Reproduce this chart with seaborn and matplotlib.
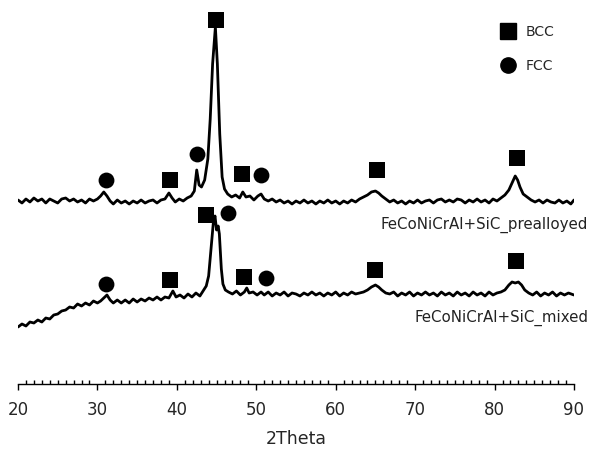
import matplotlib
matplotlib.use("Agg")
import matplotlib.pyplot as plt
from matplotlib.lines import Line2D
from matplotlib.ticker import MultipleLocator
import numpy as np
import pandas as pd
import seaborn as sns

# XRD pattern (intensity in arbitrary units)
theta_pre = [20.0, 20.5, 21.0, 21.5, 22.0, 22.5, 23.0, 23.5, 24.0, 24.5, 25.0, 25.5, 26.0, 26.5, 27.0, 27.5,
             28.0, 28.5, 29.0, 29.5, 30.0, 30.4, 30.8, 31.2, 31.6, 32.0, 32.5, 33.0, 33.5, 34.0, 34.5, 35.0,
             35.5, 36.0, 36.5, 37.0, 37.5, 38.0, 38.5, 39.0, 39.4, 39.8, 40.3, 40.8, 41.3, 41.8, 42.2, 42.5,
             42.8, 43.1, 43.5, 43.9, 44.2, 44.5, 44.85, 45.1, 45.4, 45.7, 46.0, 46.4, 46.9, 47.4, 47.9, 48.3,
             48.7, 49.2, 49.7, 50.2, 50.6, 51.0, 51.5, 52.0, 52.5, 53.0, 53.5, 54.0, 54.5, 55.0, 55.5, 56.0,
             56.5, 57.0, 57.5, 58.0, 58.5, 59.0, 59.5, 60.0, 60.5, 61.0, 61.5, 62.0, 62.5, 63.0, 63.5, 64.0,
             64.5, 65.0, 65.4, 65.8, 66.3, 66.8, 67.3, 67.8, 68.3, 68.8, 69.3, 69.8, 70.3, 70.8, 71.3, 71.8,
             72.3, 72.8, 73.3, 73.8, 74.3, 74.8, 75.3, 75.8, 76.3, 76.8, 77.3, 77.8, 78.3, 78.8, 79.3, 79.8,
             80.3, 80.8, 81.3, 81.8, 82.2, 82.6, 82.9, 83.2, 83.6, 84.1, 84.6, 85.1, 85.6, 86.1, 86.6, 87.1,
             87.6, 88.1, 88.6, 89.1, 89.6, 90.0]
int_pre = [184, 181, 185, 182, 186, 183, 185, 181, 185, 183, 181, 185, 186, 183, 185, 182,
           184, 181, 185, 183, 185, 188, 192, 188, 183, 180, 184, 181, 183, 180, 183, 181,
           184, 181, 183, 184, 181, 184, 185, 191, 186, 182, 185, 183, 186, 188, 193, 214,
           199, 197, 204, 225, 265, 320, 357, 320, 250, 207, 195, 190, 187, 189, 186, 192,
           187, 188, 184, 188, 190, 185, 183, 185, 182, 184, 181, 183, 180, 183, 181, 184,
           181, 183, 180, 183, 181, 184, 181, 183, 180, 183, 181, 184, 182, 185, 187, 189,
           192, 193, 191, 188, 185, 182, 184, 181, 183, 180, 183, 181, 184, 181, 183, 184,
           181, 184, 185, 182, 184, 182, 185, 184, 181, 184, 182, 185, 182, 184, 181, 185,
           183, 186, 189, 194, 201, 208, 204, 197, 190, 187, 184, 182, 184, 181, 184, 182,
           181, 184, 181, 183, 180, 184]

theta_mix = [20.0, 20.5, 21.0, 21.5, 22.0, 22.5, 23.0, 23.5, 24.0, 24.5, 25.0, 25.5, 26.0, 26.5, 27.0, 27.5,
             28.0, 28.5, 29.0, 29.5, 30.0, 30.4, 30.8, 31.2, 31.6, 32.0, 32.5, 33.0, 33.5, 34.0, 34.5, 35.0,
             35.5, 36.0, 36.5, 37.0, 37.5, 38.0, 38.5, 39.0, 39.5, 39.9, 40.4, 40.9, 41.4, 41.9, 42.4, 42.9,
             43.3, 43.7, 44.0, 44.3, 44.6, 44.8, 45.0, 45.2, 45.35, 45.6, 45.8, 46.1, 46.5, 47.0, 47.5, 48.0,
             48.5, 48.8, 49.1, 49.6, 50.1, 50.6, 51.0, 51.5, 52.0, 52.5, 53.0, 53.5, 54.0, 54.5, 55.0, 55.5,
             56.0, 56.5, 57.0, 57.5, 58.0, 58.5, 59.0, 59.5, 60.0, 60.5, 61.0, 61.5, 62.0, 62.5, 63.0, 63.5,
             64.0, 64.5, 65.0, 65.4, 65.8, 66.3, 66.8, 67.3, 67.8, 68.3, 68.8, 69.3, 69.8, 70.3, 70.8, 71.3,
             71.8, 72.3, 72.8, 73.3, 73.8, 74.3, 74.8, 75.3, 75.8, 76.3, 76.8, 77.3, 77.8, 78.3, 78.8, 79.3,
             79.8, 80.3, 80.8, 81.3, 81.8, 82.2, 82.6, 83.0, 83.4, 83.8, 84.3, 84.8, 85.3, 85.8, 86.3, 86.8,
             87.3, 87.8, 88.3, 88.8, 89.3, 90.0]
int_mix = [57, 60, 58, 62, 61, 64, 62, 66, 65, 69, 70, 73, 74, 77, 76, 80,
           78, 81, 79, 83, 81, 83, 86, 89, 84, 81, 84, 81, 84, 81, 85, 82,
           85, 83, 86, 84, 87, 84, 87, 86, 93, 87, 89, 86, 90, 87, 91, 88,
           93, 98, 108, 135, 162, 168, 154, 158, 150, 115, 100, 94, 92, 90, 93, 89,
           92, 96, 91, 92, 89, 92, 89, 92, 88, 91, 89, 92, 88, 91, 90, 88,
           91, 89, 92, 89, 91, 88, 91, 89, 92, 88, 91, 89, 92, 90, 91, 92,
           94, 97, 99, 97, 94, 91, 90, 92, 88, 91, 89, 92, 88, 91, 89, 92,
           89, 91, 88, 92, 89, 91, 88, 92, 89, 91, 88, 92, 89, 91, 88, 92,
           89, 91, 92, 94, 99, 102, 101, 102, 99, 94, 91, 89, 92, 88, 91, 89,
           92, 88, 91, 89, 91, 89]

# phase markers
bcc_x = [39.1, 44.9, 48.2, 65.2, 82.8, 39.1, 43.7, 48.5, 64.9, 82.7]
bcc_y = [204, 364, 210, 214, 226, 104, 169, 107, 114, 123]
fcc_x = [31.1, 42.5, 50.6, 31.1, 46.4, 51.2]
fcc_y = [204, 230, 209, 100, 171, 106]

sample_labels = ["FeCoNiCrAl+SiC_prealloyed", "FeCoNiCrAl+SiC_mixed"]
label_y = [159, 66]

sns.set_theme(style="white")
plt.rcParams['font.family'] = ['DejaVu Sans']

fig = plt.figure(figsize=(5.9, 4.5), dpi=100)
ax = fig.add_axes([18 / 590, 1 - 384 / 450, 556 / 590, 384 / 450])

pre = pd.DataFrame({"theta": theta_pre, "I": int_pre})
mix = pd.DataFrame({"theta": theta_mix, "I": int_mix})
sns.lineplot(data=pre, x="theta", y="I", color="black", lw=2.0, ax=ax, sort=False)
sns.lineplot(data=mix, x="theta", y="I", color="black", lw=2.0, ax=ax, sort=False)

sns.scatterplot(x=bcc_x, y=bcc_y, marker="s", s=120, color="black", linewidth=0, ax=ax, clip_on=False)
sns.scatterplot(x=fcc_x, y=fcc_y, marker="o", s=130, color="black", linewidth=0, ax=ax, clip_on=False)

for lab, yy in zip(sample_labels, label_y):
    ax.text(91.8, yy, lab, ha="right", va="center", fontsize=10.8, color="#222222")

ax.set_xlim(20, 90)
ax.set_ylim(0, 384)
ax.set_yticks([])
ax.set_ylabel("")
ax.set_xticks(range(20, 91, 10))
ax.xaxis.set_minor_locator(MultipleLocator(1))
ax.tick_params(axis="x", which="major", direction="out", length=4, width=1, color="black",
               labelsize=12, pad=8, bottom=True)
ax.tick_params(axis="x", which="minor", direction="in", length=3, width=1, color="black", bottom=True)
ax.set_xlabel("2Theta", fontsize=12.5, labelpad=8)
for s in ["left", "top", "right"]:
    ax.spines[s].set_visible(False)
ax.spines["bottom"].set_color("black")
ax.spines["bottom"].set_linewidth(1)

handles = [Line2D([], [], marker="s", ls="none", color="black", ms=11),
           Line2D([], [], marker="o", ls="none", color="black", ms=11)]
fig.legend(handles, ["BCC", "FCC"], loc="upper left", bbox_to_anchor=(487 / 590, 1 - 12 / 450),
           frameon=False, fontsize=10, labelspacing=1.5, handletextpad=0.7, handlelength=1.2)

fig.savefig("out.png", dpi=100)
